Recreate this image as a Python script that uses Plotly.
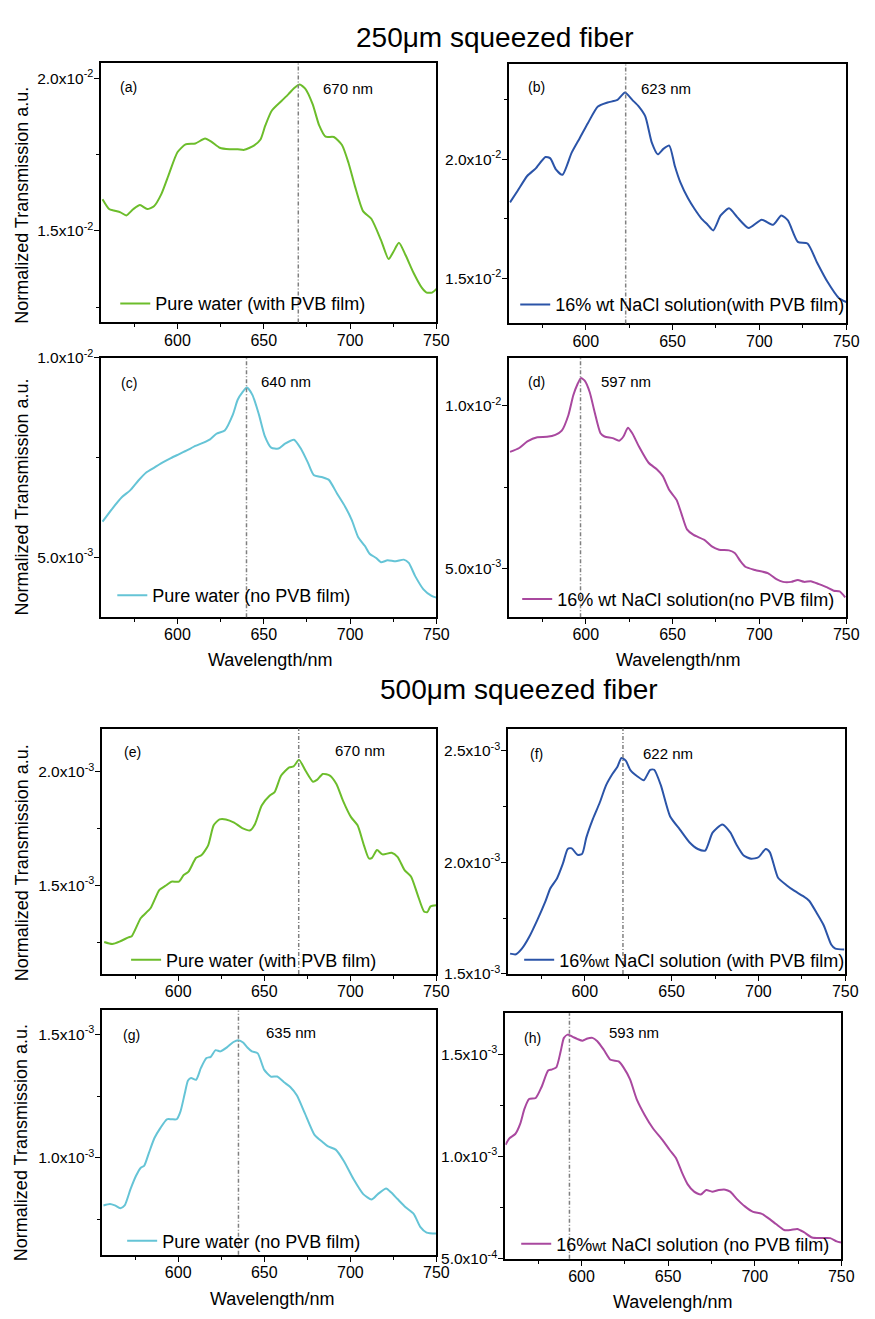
import plotly.graph_objects as go

# ---------------- data ----------------
wl_a = [556.6,560.4,563.2,567,570.4,574.5,578.3,582.5,586.4,590.6,595.3,600,604.7,610.4,616,619.8,624.5,630.2,634.9,638.7,644.3,648.1,650.9,654.7,660.4,664.2,667.5,670.8,674,678.3,682.1,685.8,690.6,695.3,699.1,702.8,707.5,712.3,717.9,722.3,725.1,728.3,732.1,736.8,741.5,744.3,747.5,750]
val_a = [0.01604,0.01572,0.01567,0.01561,0.01551,0.01572,0.01585,0.01572,0.01581,0.01620,0.01690,0.01758,0.01784,0.01787,0.01803,0.01792,0.01773,0.01768,0.01768,0.01766,0.01780,0.01800,0.01846,0.01895,0.01927,0.01948,0.01968,0.01980,0.01967,0.01916,0.01846,0.01809,0.01808,0.01782,0.01723,0.01647,0.01565,0.01540,0.01470,0.01408,0.01432,0.01461,0.01421,0.01362,0.01314,0.01298,0.01298,0.01310]

wl_b = [556.4,560.8,566.4,571.1,576.8,579.6,582.8,586.6,591.9,596.6,601.3,607,612.6,618.3,622.6,626.8,630.6,634.3,638.1,641.5,644.7,648.1,651.3,654.5,658.9,662.6,666.4,670.2,673.4,677.7,682.5,687.2,693.8,701.3,707.9,712.6,716.4,722.1,727.7,733.4,739.1,745.7,750]
val_b = [0.01819,0.01868,0.01931,0.01961,0.02010,0.02004,0.01958,0.01935,0.02028,0.02090,0.02153,0.02222,0.02239,0.02250,0.02281,0.02250,0.02222,0.02181,0.02069,0.02021,0.02044,0.02058,0.01972,0.01903,0.01836,0.01792,0.01753,0.01725,0.01701,0.01764,0.01794,0.01757,0.01711,0.01746,0.01725,0.01764,0.01743,0.01653,0.01646,0.01563,0.01486,0.01417,0.01400]

wl_c = [556.6,562.3,567.9,572.6,577.4,582.1,586.8,591.5,596.2,601,605.7,610.4,615.1,618.9,622.6,627.4,632.1,634.9,637.7,640.2,643.4,647.2,650.6,654.3,658.5,662.3,667.5,671.7,675.5,678.9,684,687.7,692.5,697.2,701,704.7,708.5,711.3,715.1,717.9,721.7,726.4,731.1,734,737.7,742.5,747.2,750]
val_c = [0.005893,0.006223,0.006512,0.006678,0.006926,0.007132,0.007256,0.007380,0.007488,0.007587,0.007686,0.007793,0.007876,0.007959,0.008099,0.008182,0.008579,0.008950,0.009140,0.009256,0.009074,0.008579,0.008041,0.007752,0.007727,0.007851,0.007950,0.007711,0.007380,0.007066,0.007008,0.006942,0.006595,0.006264,0.005934,0.005504,0.005289,0.005091,0.004983,0.004876,0.004926,0.004900,0.004942,0.004860,0.004529,0.004198,0.004033,0.003990]

wl_d = [556.4,561.7,566.4,572.1,577.7,582.5,586.2,590,592.8,595.3,597.2,599.4,602.3,605.1,608.5,610.8,615.5,619.2,621.7,624.3,626.8,630.6,636.2,640.9,644.3,648.1,652.3,655.1,658.3,662.1,668.3,672.6,676.8,682.5,685.8,689.1,691.9,697.5,705.1,709.8,713.6,718.3,722.1,725.8,729.6,734.3,739,742.8,746.2,749.4]
val_d = [0.008586,0.008707,0.008909,0.009040,0.009051,0.009111,0.009242,0.009717,0.010323,0.010677,0.010859,0.010778,0.010424,0.009818,0.009162,0.009061,0.009010,0.008929,0.009061,0.009333,0.009162,0.008758,0.008253,0.008051,0.007848,0.007414,0.007111,0.006687,0.006202,0.006030,0.005879,0.005677,0.005576,0.005556,0.005475,0.005222,0.005051,0.004950,0.004848,0.004667,0.004586,0.004586,0.004646,0.004586,0.004606,0.004515,0.004414,0.004313,0.004293,0.004111]

wl_e = [557,561.7,566.4,571.1,573,578.3,583.9,589.1,592.8,596,600.4,603.2,606,610.4,613.6,617.4,620.6,624,627.7,632.5,637.2,641.9,644.7,648.5,653.2,656,659.8,664.5,667,670.2,674,678.3,680.6,684,688.1,691.9,695.7,700.4,704.2,707.9,710.8,712.6,715.5,718.7,724,727.4,731.5,735.3,739.1,742.8,744.7,746.6,750]
val_e = [0.0012507,0.001242,0.001254,0.001271,0.001276,0.001356,0.001399,0.001480,0.001499,0.001516,0.001516,0.001545,0.001560,0.001621,0.001633,0.001676,0.001764,0.001790,0.001790,0.001776,0.001752,0.001742,0.001771,0.001851,0.001895,0.001910,0.001983,0.002019,0.002023,0.002052,0.002004,0.001956,0.001964,0.001990,0.001983,0.001946,0.001873,0.001800,0.001764,0.001676,0.001618,0.001621,0.001655,0.001636,0.001643,0.001625,0.001567,0.001538,0.001458,0.001385,0.001382,0.001407,0.001412]

wl_f = [557,560.4,563.8,567.9,572.6,577.4,580.2,584,587.4,590.2,592.5,595.8,598.5,600.9,604.7,608.5,612.3,616,618.9,621.1,623.6,626.4,630.2,634,637.7,640,643.8,649.1,654.7,660.4,665.1,669.4,673.6,679.2,683.9,687.2,691.5,695.8,700,704.2,706.6,711.3,716,720.8,725.5,729.2,734,737.7,741.9,744.3,749.4]
val_f = [0.001591,0.001588,0.001613,0.001664,0.001740,0.001826,0.001884,0.001928,0.001994,0.002060,0.002063,0.002034,0.002038,0.002111,0.002195,0.002265,0.002346,0.002397,0.002430,0.002468,0.002456,0.002412,0.002386,0.002368,0.002415,0.002415,0.002346,0.002207,0.002148,0.002089,0.002060,0.002053,0.002133,0.002170,0.002133,0.002082,0.002031,0.002016,0.002023,0.002060,0.002045,0.001931,0.001899,0.001872,0.001850,0.001828,0.001767,0.001716,0.001632,0.001613,0.001609]

wl_g = [556.6,560.4,563.2,566.4,568.9,572.3,575.5,578.3,580.2,583,586.2,589.6,593.4,596.2,599.1,601.3,603.8,605.7,607.5,610.4,613.2,616.4,618.9,621.7,624.5,628.3,632.1,634.9,637.7,640.2,642.8,646.2,650,653.8,657.5,661.3,665.1,668.9,673.6,679.2,684,686.8,691.5,696.2,701.9,707.5,712.3,716,720.8,723.6,727.4,732.1,736.8,740.6,744.3,750]
val_g = [0.000807,0.000813,0.000807,0.000796,0.000807,0.000873,0.000927,0.000960,0.000967,0.001020,0.001080,0.001120,0.001156,0.001156,0.001156,0.001187,0.001260,0.001313,0.001323,0.001316,0.001364,0.001404,0.001409,0.001436,0.001431,0.001447,0.001469,0.001476,0.001467,0.001447,0.001431,0.001423,0.001356,0.001329,0.001329,0.001307,0.001287,0.001253,0.001180,0.001093,0.001063,0.001047,0.001033,0.000987,0.000913,0.000853,0.000831,0.000853,0.000876,0.000860,0.000833,0.000800,0.000773,0.000720,0.000697,0.000693]

wl_h = [556.1,558.3,561.7,564.6,567,569.7,573.5,576.9,580.7,582.6,585.4,587.9,589.8,592,594.9,597.7,600.6,603.4,606.3,609.1,612.9,616.7,621.4,624.2,628,631.8,636.6,641.3,647,650.8,654.5,658,661.2,665,668.8,672,675.4,679.2,683,685.8,689.6,694.3,699.1,703.8,707.6,712.3,717,720.8,724.6,728.4,733.1,737.9,743.6,747.3,749.8]
val_h = [0.001057,0.001089,0.001110,0.001161,0.001233,0.001281,0.001286,0.001340,0.001420,0.001425,0.001436,0.001513,0.001580,0.001596,0.001585,0.001574,0.001566,0.001577,0.001580,0.001564,0.001521,0.001473,0.001465,0.001436,0.001377,0.001281,0.001201,0.001137,0.001078,0.001033,0.000993,0.000921,0.000865,0.000828,0.000814,0.000836,0.000828,0.000836,0.000838,0.000828,0.000793,0.000756,0.000729,0.000721,0.000700,0.000670,0.000641,0.000641,0.000646,0.000630,0.000604,0.000601,0.000601,0.000585,0.000580]

series_names = [
    "Pure water (with PVB film)",
    "16% wt NaCl solution(with PVB film)",
    "Pure water (no PVB film)",
    "16% wt NaCl solution(no PVB film)",
    "Pure water (with PVB film)",
    "16%<span style='font-size:14px'>wt</span> NaCl solution (with PVB film)",
    "Pure water (no PVB film)",
    "16%<span style='font-size:14px'>wt</span> NaCl solution (no PVB film)",
]
panel_letters = ["(a)", "(b)", "(c)", "(d)", "(e)", "(f)", "(g)", "(h)"]
peak_wl = [670, 623, 640, 597, 670, 622, 635, 593]
peak_labels = ["670 nm", "623 nm", "640 nm", "597 nm", "670 nm", "622 nm", "635 nm", "593 nm"]

x_tickvals = [600, 650, 700, 750]
x_ticktext = ["600", "650", "700", "750"]
x_minor = [575, 625, 675, 725]

y_tickvals = [
    [0.015, 0.020], [0.015, 0.020], [0.005, 0.010], [0.005, 0.010],
    [0.0015, 0.0020], [0.0015, 0.0020, 0.0025], [0.0010, 0.0015], [0.0005, 0.0010, 0.0015],
]
y_ticktext = [
    ["1.5x10<sup>-2</sup>", "2.0x10<sup>-2</sup>"],
    ["1.5x10<sup>-2</sup>", "2.0x10<sup>-2</sup>"],
    ["5.0x10<sup>-3</sup>", "1.0x10<sup>-2</sup>"],
    ["5.0x10<sup>-3</sup>", "1.0x10<sup>-2</sup>"],
    ["1.5x10<sup>-3</sup>", "2.0x10<sup>-3</sup>"],
    ["1.5x10<sup>-3</sup>", "2.0x10<sup>-3</sup>", "2.5x10<sup>-3</sup>"],
    ["1.0x10<sup>-3</sup>", "1.5x10<sup>-3</sup>"],
    ["5.0x10<sup>-4</sup>", "1.0x10<sup>-3</sup>", "1.5x10<sup>-3</sup>"],
]
y_minor = [
    [0.0125, 0.0175], [0.0175, 0.0225], [0.0075], [0.0075],
    [0.00125, 0.00175], [0.00175, 0.00225], [0.00075, 0.00125], [0.00075, 0.00125],
]
y_ranges = [
    [0.0120, 0.0205], [0.0131, 0.0240], [0.0035, 0.0100], [0.0035, 0.01148],
    [0.00111, 0.00219], [0.0015, 0.0026], [0.000607, 0.001597], [0.0005, 0.0017],
]
x_range = [556, 750]

colors = ["#6cbd2b", "#2b54a8", "#65c4d6", "#a9489f", "#6cbd2b", "#2b54a8", "#65c4d6", "#a9489f"]

# ---------------- layout geometry (pixels) ----------------
W, H = 875, 1319
boxes = [  # x0, x1, y0(top), y1(bottom)
    (103, 443, 53, 316), (517, 859, 54, 317),
    (103, 443, 352, 615), (517, 859, 352, 615),
    (104, 443, 728, 977), (516, 858, 728, 977),
    (104, 443, 1014, 1262), (513, 854, 1017, 1266),
]
letter_pos = [(130, 77), (545, 77), (131, 377), (545, 376), (134, 752), (545, 754), (133, 1039), (541, 1042)]
peak_text_pos = [(326, 79), (649, 79), (263, 376), (608, 376), (338, 750), (651, 753), (268, 1036), (616, 1036)]
legend_text_start = [(155, 297), (561, 298), (152, 593), (563, 597), (166, 963), (565, 963), (162, 1248), (562, 1251)]

FONT = "Liberation Sans, Arial, sans-serif"

def px(x):
    return x / W

def py(y):
    return 1 - y / H

fig = go.Figure()
xs = [wl_a, wl_b, wl_c, wl_d, wl_e, wl_f, wl_g, wl_h]
ys = [val_a, val_b, val_c, val_d, val_e, val_f, val_g, val_h]

layout = dict(
    width=W, height=H, margin=dict(l=0, r=0, t=0, b=0),
    paper_bgcolor="white", plot_bgcolor="white",
    font=dict(family=FONT, color="black"),
    showlegend=True,
)
shapes = []
annotations = []

for i in range(8):
    n = i + 1
    sfx = "" if n == 1 else str(n)
    lg = "legend" if n == 1 else f"legend{n}"
    fig.add_trace(go.Scatter(
        x=xs[i], y=ys[i], mode="lines", name=series_names[i],
        line=dict(color=colors[i], width=2, shape="spline", smoothing=0.6),
        xaxis=f"x{sfx}", yaxis=f"y{sfx}", legend=lg, showlegend=True,
    ))
    x0, x1, y0, y1 = boxes[i]
    layout[f"xaxis{sfx}"] = dict(
        domain=[px(x0), px(x1)], anchor=f"y{sfx}", range=x_range,
        tickmode="array", tickvals=x_tickvals, ticktext=x_ticktext,
        ticks="outside", ticklen=5, tickwidth=1.3, tickcolor="black",
        minor=dict(tickmode="array", tickvals=x_minor, ticks="outside", ticklen=3, tickwidth=1.2, tickcolor="black"),
        showline=True, linewidth=2, linecolor="black", mirror=True,
        showgrid=False, zeroline=False, tickfont=dict(size=16, family=FONT),
        ticklabelstandoff=-3,
    )
    layout[f"yaxis{sfx}"] = dict(
        domain=[py(y1), py(y0)], anchor=f"x{sfx}", range=y_ranges[i],
        tickmode="array", tickvals=y_tickvals[i], ticktext=y_ticktext[i],
        ticks="outside", ticklen=5, tickwidth=1.3, tickcolor="black",
        minor=dict(tickmode="array", tickvals=y_minor[i], ticks="outside", ticklen=3, tickwidth=1.2, tickcolor="black"),
        showline=True, linewidth=2, linecolor="black", mirror=True,
        showgrid=False, zeroline=False, tickfont=dict(size=15.5, family=FONT),
        ticklabelstandoff=-2,
    )
    tx0, ty0 = legend_text_start[i]
    layout[lg] = dict(
        x=px(tx0 - 38), y=py(ty0), xanchor="left", yanchor="middle",
        bgcolor="rgba(0,0,0,0)", borderwidth=0,
        font=dict(size=18, family=FONT), itemwidth=30,
    )
    shapes.append(dict(
        type="line", xref=f"x{sfx}", yref=f"y{sfx} domain",
        x0=peak_wl[i], x1=peak_wl[i], y0=0, y1=1,
        line=dict(color="#808080", width=1.5, dash="4px,2px,1px,2px"),
    ))
    lx, ly = letter_pos[i]
    annotations.append(dict(text=panel_letters[i], x=px(lx), y=py(ly), xref="paper", yref="paper",
                            showarrow=False, xanchor="center", yanchor="middle", font=dict(size=14)))
    tx, ty = peak_text_pos[i]
    annotations.append(dict(text=peak_labels[i], x=px(tx), y=py(ty), xref="paper", yref="paper",
                            showarrow=False, xanchor="left", yanchor="middle", font=dict(size=15)))

# titles
annotations.append(dict(text="250μm squeezed fiber", x=px(502), y=py(27), xref="paper", yref="paper",
                        showarrow=False, xanchor="center", yanchor="middle", font=dict(size=28)))
annotations.append(dict(text="500μm squeezed fiber", x=px(527), y=py(688), xref="paper", yref="paper",
                        showarrow=False, xanchor="center", yanchor="middle", font=dict(size=28)))
# y-axis titles
for yc in [197, 493, 864, 1148]:
    annotations.append(dict(text="Normalized Transmission a.u.", x=px(22), y=py(yc), xref="paper", yref="paper",
                            showarrow=False, textangle=-90, xanchor="center", yanchor="middle", font=dict(size=18)))
# x-axis titles
for (xc, yc, t) in [(274, 658, "Wavelength/nm"), (688, 658, "Wavelength/nm"),
                    (276, 1307, "Wavelength/nm"), (683, 1310, "Wavelengh/nm")]:
    annotations.append(dict(text=t, x=px(xc), y=py(yc), xref="paper", yref="paper",
                            showarrow=False, xanchor="center", yanchor="middle", font=dict(size=18)))

layout["shapes"] = shapes
layout["annotations"] = annotations
fig.update_layout(**layout)
fig.write_html("out.html",
               post_script="document.body.style.margin='0';document.body.style.overflow='hidden';")
